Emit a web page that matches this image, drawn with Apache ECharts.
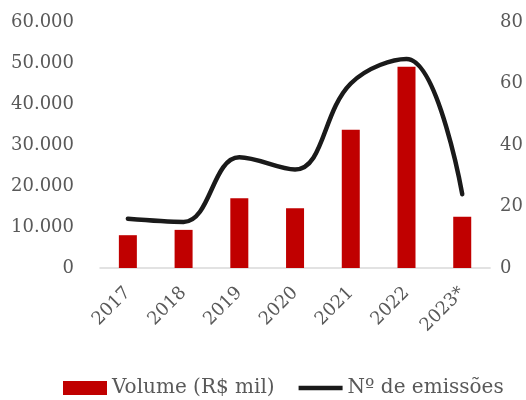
<!DOCTYPE html>
<html>
<head>
<meta charset="utf-8">
<script src="https://cdn.jsdelivr.net/npm/echarts@6/dist/echarts.min.js"></script>
<style>
  html, body { margin: 0; padding: 0; background: #fff; }
  #chart { width: 526px; height: 400px; }
</style>
</head>
<body>
<div id="chart"></div>
<script>
const years = ['2017', '2018', '2019', '2020', '2021', '2022', '2023*'];
const volume = [8000, 9300, 17000, 14600, 33700, 49100, 12500];
const emissoes = [16, 15, 36, 32, 60, 68, 24];

const font = 'DejaVu Serif';
const grey = '#595959';

const chart = echarts.init(document.getElementById('chart'));
chart.setOption({
  animation: false,
  grid: { left: 100, right: 30, top: 22, bottom: 132 },
  legend: {
    bottom: -3,
    left: 58,
    itemGap: 24,
    itemWidth: 44,
    itemHeight: 14,
    textStyle: { fontFamily: font, fontSize: 20, color: grey },
    data: [
      { name: 'Volume (R$ mil)', icon: 'rect' },
      { name: 'Nº de emissões', icon: 'path://M0,0 L10,0 L10,1 L0,1 Z', itemStyle: { color: '#1a1a1a' } }
    ]
  },
  xAxis: {
    type: 'category',
    data: years,
    axisLine: { lineStyle: { color: '#d9d9d9', width: 1.5 } },
    axisTick: { show: false },
    axisLabel: { rotate: 45, margin: 22, fontFamily: font, fontSize: 18, color: grey }
  },
  yAxis: [
    {
      type: 'value', min: 0, max: 60000, interval: 10000,
      splitLine: { show: false },
      axisLabel: {
        margin: 26, fontFamily: font, fontSize: 18, color: grey,
        formatter: v => v === 0 ? '0' : (v / 1000) + '.000'
      }
    },
    {
      type: 'value', min: 0, max: 80, interval: 20,
      splitLine: { show: false },
      axisLabel: { margin: 10, fontFamily: font, fontSize: 18, color: grey }
    }
  ],
  series: [
    {
      name: 'Volume (R$ mil)',
      type: 'bar',
      data: volume,
      barWidth: 18,
      itemStyle: { color: '#c00000' }
    },
    {
      name: 'Nº de emissões',
      type: 'line',
      yAxisIndex: 1,
      data: emissoes,
      smooth: 0.4,
      showSymbol: false,
      lineStyle: { color: '#1a1a1a', width: 4.5, cap: 'round' },
      itemStyle: { color: '#1a1a1a' }
    }
  ]
});
</script>
</body>
</html>
